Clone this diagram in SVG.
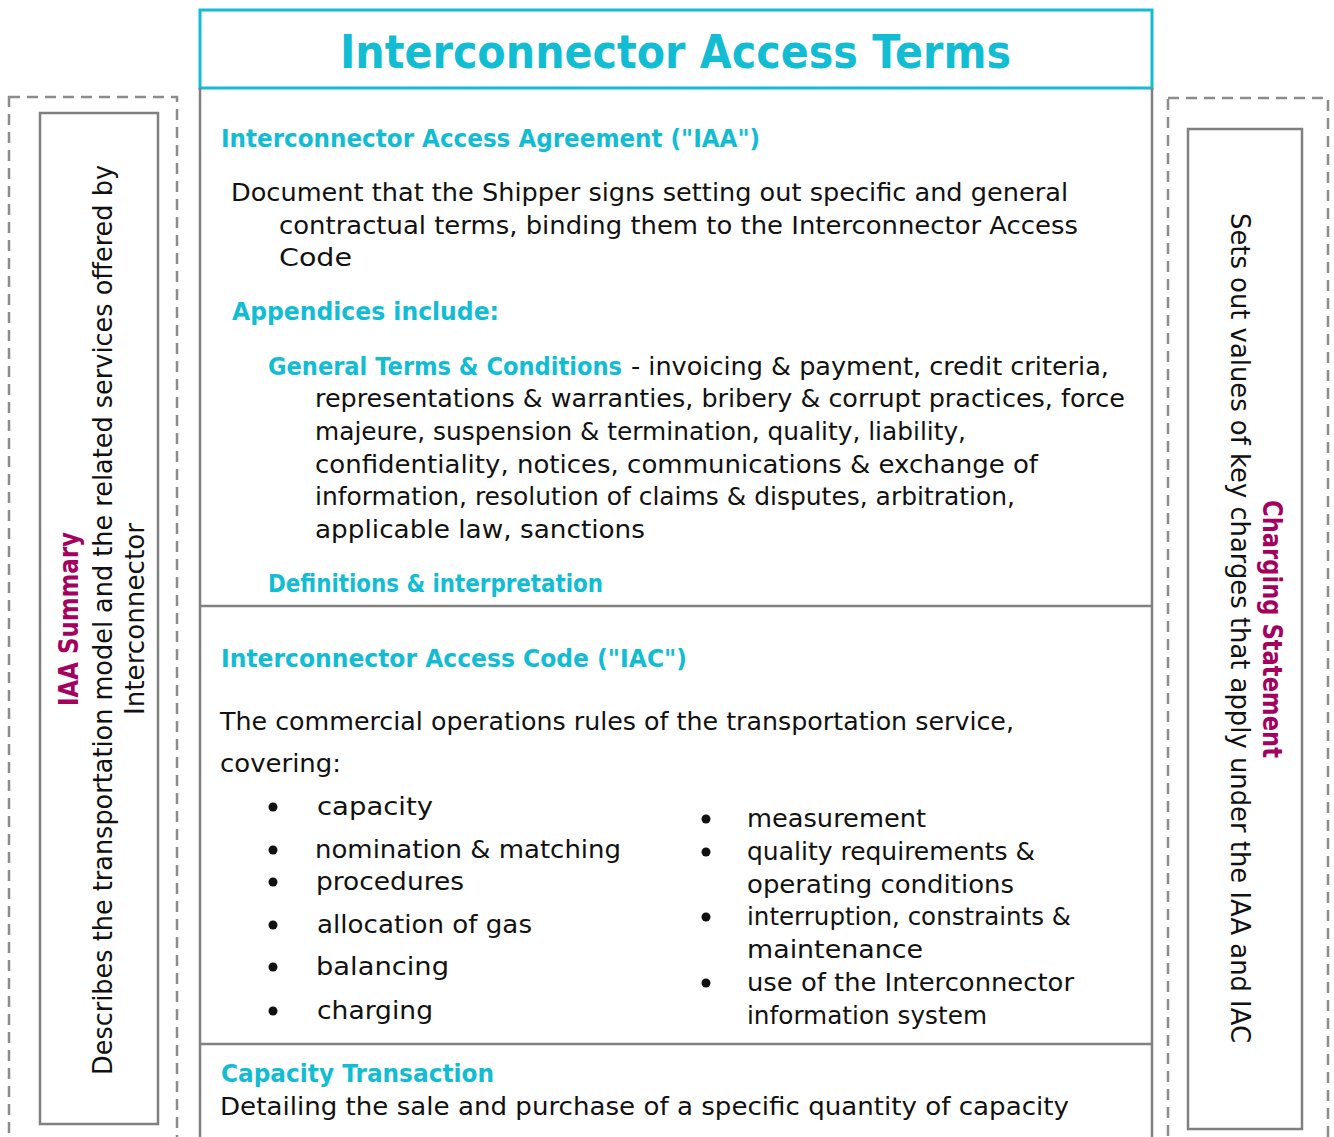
<svg xmlns="http://www.w3.org/2000/svg" width="1334" height="1137" viewBox="0 0 1334 1137">
  <style>
    text { font-family: "DejaVu Sans", "Liberation Sans", sans-serif; }
    .body { font-size: 25px; fill: #111111; }
    .head { font-size: 25px; font-weight: bold; fill: #12BDD3; }
    .title { font-size: 46px; font-weight: bold; fill: #12BDD3; }
    .side { font-size: 27px; fill: #111111; }
    .sidehead { font-size: 27px; font-weight: bold; fill: #A4005E; }
    .frame { fill: none; stroke: #808080; stroke-width: 2.5; }
    .dash { fill: none; stroke: #8C8C8C; stroke-width: 2.5; stroke-dasharray: 11 7; }
    .dot { fill: #111111; }
  </style>

  <rect width="1334" height="1137" fill="#FFFFFF"/>

  <!-- left side panel: IAA Summary -->
  <g id="iaa-summary">
    <rect class="dash" x="9" y="97" width="168" height="1070"/>
    <rect class="frame" x="40" y="113" width="118" height="1011" stroke-width="3"/>
    <g transform="translate(78,619) rotate(-90)">
      <text class="sidehead" x="0" y="0" text-anchor="middle" textLength="174" lengthAdjust="spacingAndGlyphs">IAA Summary</text>
    </g>
    <g transform="translate(112,620) rotate(-90)">
      <text class="side" x="0" y="0" text-anchor="middle" textLength="910" lengthAdjust="spacingAndGlyphs">Describes the transportation model and the related services offered by</text>
    </g>
    <g transform="translate(144,619) rotate(-90)">
      <text class="side" x="0" y="0" text-anchor="middle" textLength="192" lengthAdjust="spacingAndGlyphs">Interconnector</text>
    </g>
  </g>

  <!-- right side panel: Charging Statement -->
  <g id="charging-statement">
    <rect class="dash" x="1168" y="98" width="160" height="1070"/>
    <rect class="frame" x="1188" y="129" width="114" height="1000" stroke-width="3"/>
    <g transform="translate(1263,629) rotate(90)">
      <text class="sidehead" x="0" y="0" text-anchor="middle" textLength="258" lengthAdjust="spacingAndGlyphs">Charging Statement</text>
    </g>
    <g transform="translate(1231,628) rotate(90)">
      <text class="side" x="0" y="0" text-anchor="middle" textLength="830" lengthAdjust="spacingAndGlyphs">Sets out values of key charges that apply under the IAA and IAC</text>
    </g>
  </g>

  <!-- title bar -->
  <g id="title">
    <rect x="200" y="10" width="952" height="78" fill="#FFFFFF" stroke="#12BDD3" stroke-width="3"/>
    <text class="title" x="340" y="68" textLength="671" lengthAdjust="spacingAndGlyphs">Interconnector Access Terms</text>
  </g>

  <!-- main column frame and section dividers -->
  <g id="main-frame">
    <path class="frame" d="M200,88 V1140 M1152,88 V1140"/>
    <path class="frame" d="M200,606 H1152 M200,1044 H1152"/>
  </g>

  <!-- section: Interconnector Access Agreement -->
  <g id="iaa">
    <text class="head" x="221" y="147" textLength="539" lengthAdjust="spacingAndGlyphs">Interconnector Access Agreement ("IAA")</text>
    <text class="body" x="231" y="201" textLength="837" lengthAdjust="spacingAndGlyphs">Document that the Shipper signs setting out specific and general</text>
    <text class="body" x="279" y="234" textLength="799" lengthAdjust="spacingAndGlyphs">contractual terms, binding them to the Interconnector Access</text>
    <text class="body" x="279" y="266" textLength="73" lengthAdjust="spacingAndGlyphs">Code</text>
    <text class="head" x="232" y="320" textLength="267" lengthAdjust="spacingAndGlyphs">Appendices include:</text>
    <text class="head" x="268" y="375" textLength="354" lengthAdjust="spacingAndGlyphs">General Terms &amp; Conditions</text>
    <text class="body" x="631" y="375" textLength="478" lengthAdjust="spacingAndGlyphs">- invoicing &amp; payment, credit criteria,</text>
    <text class="body" x="315" y="407" textLength="810" lengthAdjust="spacingAndGlyphs">representations &amp; warranties, bribery &amp; corrupt practices, force</text>
    <text class="body" x="315" y="440" textLength="651" lengthAdjust="spacingAndGlyphs">majeure, suspension &amp; termination, quality, liability,</text>
    <text class="body" x="315" y="473" textLength="723" lengthAdjust="spacingAndGlyphs">confidentiality, notices, communications &amp; exchange of</text>
    <text class="body" x="315" y="505" textLength="700" lengthAdjust="spacingAndGlyphs">information, resolution of claims &amp; disputes, arbitration,</text>
    <text class="body" x="315" y="538" textLength="330" lengthAdjust="spacingAndGlyphs">applicable law, sanctions</text>
    <text class="head" x="268" y="592" textLength="335" lengthAdjust="spacingAndGlyphs">Definitions &amp; interpretation</text>
  </g>

  <!-- section: Interconnector Access Code -->
  <g id="iac">
    <text class="head" x="221" y="667" textLength="466" lengthAdjust="spacingAndGlyphs">Interconnector Access Code ("IAC")</text>
    <text class="body" x="220" y="730" textLength="794" lengthAdjust="spacingAndGlyphs">The commercial operations rules of the transportation service,</text>
    <text class="body" x="220" y="772" textLength="121" lengthAdjust="spacingAndGlyphs">covering:</text>

    <circle class="dot" cx="273" cy="807" r="4.5"/>
    <circle class="dot" cx="273" cy="850" r="4.5"/>
    <circle class="dot" cx="273" cy="882" r="4.5"/>
    <circle class="dot" cx="273" cy="925" r="4.5"/>
    <circle class="dot" cx="273" cy="967" r="4.5"/>
    <circle class="dot" cx="273" cy="1011" r="4.5"/>
    <text class="body" x="317" y="815" textLength="116" lengthAdjust="spacingAndGlyphs">capacity</text>
    <text class="body" x="315" y="858" textLength="306" lengthAdjust="spacingAndGlyphs">nomination &amp; matching</text>
    <text class="body" x="316" y="890" textLength="148" lengthAdjust="spacingAndGlyphs">procedures</text>
    <text class="body" x="317" y="933" textLength="215" lengthAdjust="spacingAndGlyphs">allocation of gas</text>
    <text class="body" x="316" y="975" textLength="133" lengthAdjust="spacingAndGlyphs">balancing</text>
    <text class="body" x="317" y="1019" textLength="116" lengthAdjust="spacingAndGlyphs">charging</text>

    <circle class="dot" cx="706" cy="819" r="4.5"/>
    <circle class="dot" cx="706" cy="852" r="4.5"/>
    <circle class="dot" cx="706" cy="917" r="4.5"/>
    <circle class="dot" cx="706" cy="983" r="4.5"/>
    <text class="body" x="747" y="827" textLength="179" lengthAdjust="spacingAndGlyphs">measurement</text>
    <text class="body" x="747" y="860" textLength="288" lengthAdjust="spacingAndGlyphs">quality requirements &amp;</text>
    <text class="body" x="747" y="893" textLength="267" lengthAdjust="spacingAndGlyphs">operating conditions</text>
    <text class="body" x="747" y="925" textLength="324" lengthAdjust="spacingAndGlyphs">interruption, constraints &amp;</text>
    <text class="body" x="747" y="958" textLength="176" lengthAdjust="spacingAndGlyphs">maintenance</text>
    <text class="body" x="747" y="991" textLength="327" lengthAdjust="spacingAndGlyphs">use of the Interconnector</text>
    <text class="body" x="747" y="1024" textLength="240" lengthAdjust="spacingAndGlyphs">information system</text>
  </g>

  <!-- section: Capacity Transaction -->
  <g id="capacity-transaction">
    <text class="head" x="221" y="1082" textLength="273" lengthAdjust="spacingAndGlyphs">Capacity Transaction</text>
    <text class="body" x="220" y="1115" textLength="849" lengthAdjust="spacingAndGlyphs">Detailing the sale and purchase of a specific quantity of capacity</text>
  </g>

  <!-- connectors: none drawn -->
  <g id="connectors"/>
</svg>
